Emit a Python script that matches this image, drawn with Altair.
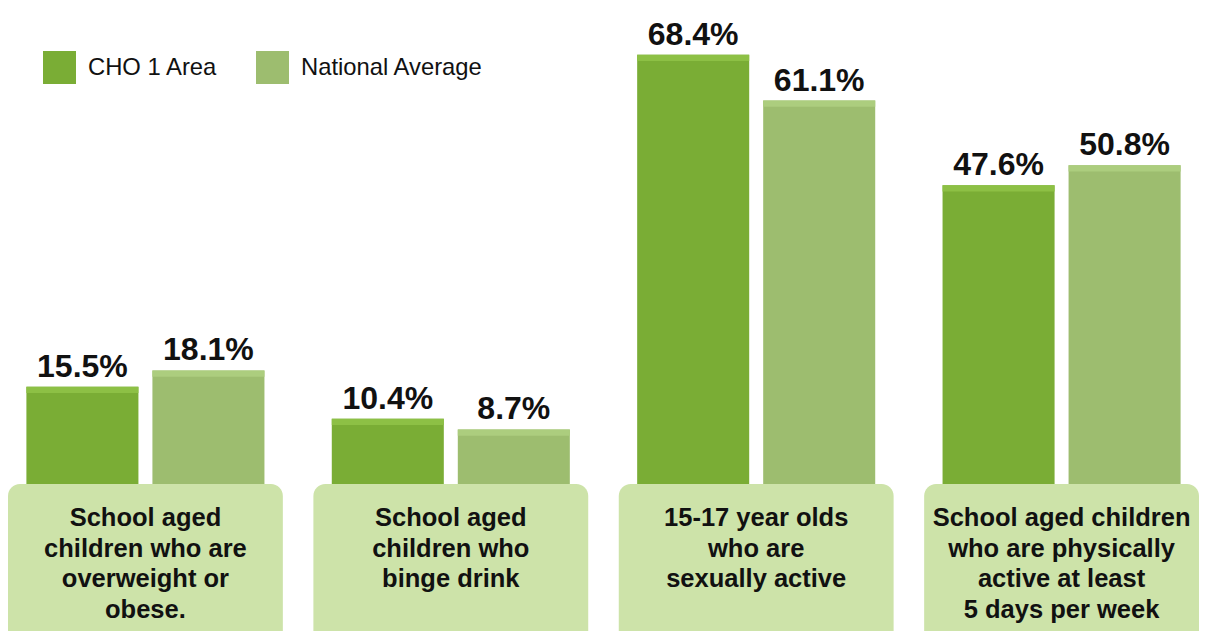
import altair as alt
import pandas as pd

categories = ["overweight", "binge", "sexual", "active"]
category_labels = [
    "School aged\nchildren who are\noverweight or\nobese.",
    "School aged\nchildren who\nbinge drink",
    "15-17 year olds\nwho are\nsexually active",
    "School aged children\nwho are physically\nactive at least\n5 days per week",
]
series = ["CHO 1 Area", "National Average"]
cho_values = [15.5, 10.4, 68.4, 47.6]
national_values = [18.1, 8.7, 61.1, 50.8]

main_colors = ["#7aad35", "#9dbd6f"]
top_colors = ["#8dc045", "#accd7e"]
box_color = "#cde3a9"
FONT = "Liberation Sans"

Y_MIN, Y_MAX = -23.42, 75.85
BEVEL = 1.0

rows = []
for c, v1, v2 in zip(categories, cho_values, national_values):
    for s, v in zip(series, (v1, v2)):
        rows.append({"category": c, "series": s, "value": v,
                     "bevel": v - BEVEL, "label": f"{v:.1f}%"})
bars_df = pd.DataFrame(rows)
boxes_df = pd.DataFrame({"category": categories, "text": category_labels})

yscale = alt.Scale(domain=[Y_MIN, Y_MAX], nice=False, zero=False)
x_enc = alt.X("category:N", sort=categories, axis=None,
              scale=alt.Scale(paddingInner=0.1, paddingOuter=0))
xoff_enc = alt.XOffset("series:N", sort=series,
                       scale=alt.Scale(paddingInner=0.111, paddingOuter=0.146))

bars = alt.Chart(bars_df).mark_bar().encode(
    x=x_enc, xOffset=xoff_enc,
    y=alt.Y("value:Q", scale=yscale, axis=None),
    y2=alt.datum(0),
    color=alt.Color("series:N", sort=series,
                    scale=alt.Scale(domain=series, range=main_colors),
                    legend=alt.Legend(orient="none", legendX=35, legendY=43,
                                      direction="horizontal", title=None,
                                      symbolType="square", symbolSize=1089,
                                      symbolStrokeWidth=0, symbolOpacity=1,
                                      labelFont=FONT, labelFontSize=23.8,
                                      labelColor="#111111", labelOffset=12,
                                      labelLimit=0,
                                      columnPadding=38, padding=0)),
)

bevel = alt.Chart(bars_df).mark_bar().encode(
    x=x_enc, xOffset=xoff_enc,
    y=alt.Y("value:Q", scale=yscale, axis=None),
    y2="bevel:Q",
    fill=alt.Fill("series:N", sort=series,
                  scale=alt.Scale(domain=series, range=top_colors), legend=None),
)

labels = alt.Chart(bars_df).mark_text(
    font=FONT, fontSize=32, fontWeight="bold", color="#111111",
    baseline="alphabetic", dy=-10,
).encode(
    x=x_enc, xOffset=xoff_enc,
    y=alt.Y("value:Q", scale=yscale, axis=None),
    text="label:N",
)

boxes = alt.Chart(boxes_df).mark_bar(
    color=box_color, cornerRadiusTopLeft=12, cornerRadiusTopRight=12
).encode(
    x=x_enc,
    y=alt.datum(Y_MIN, scale=yscale),
    y2=alt.datum(0),
)

box_text = alt.Chart(boxes_df).mark_text(
    font=FONT, fontSize=25.5, fontWeight="bold", color="#111111",
    baseline="top", lineBreak="\n", lineHeight=30.7, dy=22,
).encode(
    x=x_enc,
    y=alt.datum(0, scale=yscale),
    text="text:N",
)

chart = alt.layer(bars, bevel, labels, boxes, box_text).resolve_scale(
    color="independent"
).properties(
    width=1191, height=623, padding=0, autosize=alt.AutoSizeParams(type="none")
).configure_view(stroke=None)

chart.save("out.html", embed_options={"renderer": "svg", "actions": False})
